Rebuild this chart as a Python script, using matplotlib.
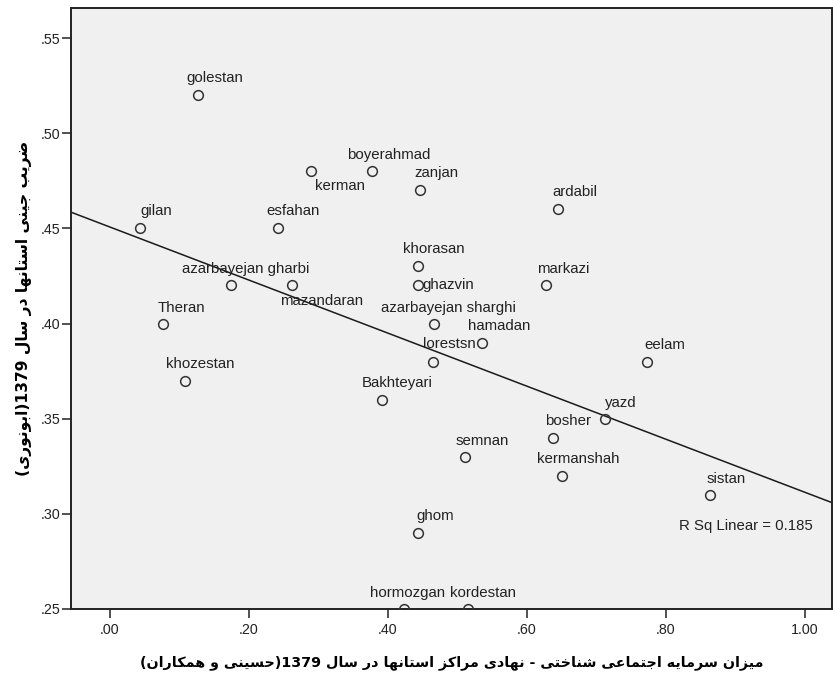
import numpy as np
import matplotlib
matplotlib.use("Agg")
import matplotlib.pyplot as plt

# Provinces, social capital (x) and Gini coefficient (y)
provinces = ["golestan", "kerman", "boyerahmad", "gilan", "esfahan",
             "azarbayejan gharbi", "mazandaran", "Theran", "zanjan", "ardabil",
             "khorasan", "ghazvin", "markazi", "azarbayejan sharghi", "hamadan",
             "lorestsn", "eelam", "Bakhteyari", "khozestan", "yazd",
             "bosher", "semnan", "kermanshah", "sistan", "ghom",
             "hormozgan", "kordestan"]
social_capital = [0.127, 0.290, 0.377, 0.043, 0.242,
                  0.174, 0.262, 0.077, 0.447, 0.645,
                  0.443, 0.443, 0.627, 0.467, 0.535,
                  0.465, 0.773, 0.391, 0.108, 0.712,
                  0.638, 0.511, 0.651, 0.863, 0.444,
                  0.423, 0.515]
gini = [0.52, 0.48, 0.48, 0.45, 0.45,
        0.42, 0.42, 0.40, 0.47, 0.46,
        0.43, 0.42, 0.42, 0.40, 0.39,
        0.38, 0.38, 0.36, 0.37, 0.35,
        0.34, 0.33, 0.32, 0.31, 0.29,
        0.25, 0.25]

x_ticks = [0.0, 0.2, 0.4, 0.6, 0.8, 1.0]
x_ticklabels = [".00", ".20", ".40", ".60", ".80", "1.00"]
y_ticks = [0.25, 0.30, 0.35, 0.40, 0.45, 0.50, 0.55]
y_ticklabels = [".25", ".30", ".35", ".40", ".45", ".50", ".55"]

xlabel_fa = "میزان سرمایه اجتماعی شناختی - نهادی مراکز استانها در سال 1379(حسینی و همکاران)"
ylabel_fa = "ضریب جینی استانها در سال 1379(ابونوری)"
r2_text = "R Sq Linear = 0.185"

# label placement (pixels, left edge / vertical centre relative to the point)
label_offsets = {
    "golestan": (-12, 17), "kerman": (4, -15), "boyerahmad": (-25, 16),
    "gilan": (1, 17), "esfahan": (-12, 17), "azarbayejan gharbi": (-49, 16),
    "mazandaran": (-12, -16), "Theran": (-6, 16), "zanjan": (-6, 17),
    "ardabil": (-6, 17), "khorasan": (-15, 17), "ghazvin": (5, 0),
    "markazi": (-9, 16), "azarbayejan sharghi": (-53, 16), "hamadan": (-14, 17),
    "lorestsn": (-10, 18), "eelam": (-3, 17), "Bakhteyari": (-20, 17),
    "khozestan": (-19, 17), "yazd": (0, 16), "bosher": (-8, 17),
    "semnan": (-9, 16), "kermanshah": (-25, 17), "sistan": (-3, 16),
    "ghom": (-2, 17), "hormozgan": (-34, 16), "kordestan": (-18, 16),
}

# --- minimal Persian shaping (matplotlib has no text shaping / bidi) ---
FORMS = {
    "ا": ("\uFE8D", "\uFE8E", None, None),
    "ب": ("\uFE8F", "\uFE90", "\uFE91", "\uFE92"),
    "ت": ("\uFE95", "\uFE96", "\uFE97", "\uFE98"),
    "ج": ("\uFE9D", "\uFE9E", "\uFE9F", "\uFEA0"),
    "ح": ("\uFEA1", "\uFEA2", "\uFEA3", "\uFEA4"),
    "خ": ("\uFEA5", "\uFEA6", "\uFEA7", "\uFEA8"),
    "د": ("\uFEA9", "\uFEAA", None, None),
    "ر": ("\uFEAD", "\uFEAE", None, None),
    "ز": ("\uFEAF", "\uFEB0", None, None),
    "س": ("\uFEB1", "\uFEB2", "\uFEB3", "\uFEB4"),
    "ش": ("\uFEB5", "\uFEB6", "\uFEB7", "\uFEB8"),
    "ض": ("\uFEBD", "\uFEBE", "\uFEBF", "\uFEC0"),
    "ع": ("\uFEC9", "\uFECA", "\uFECB", "\uFECC"),
    "ل": ("\uFEDD", "\uFEDE", "\uFEDF", "\uFEE0"),
    "م": ("\uFEE1", "\uFEE2", "\uFEE3", "\uFEE4"),
    "ن": ("\uFEE5", "\uFEE6", "\uFEE7", "\uFEE8"),
    "ه": ("\uFEE9", "\uFEEA", "\uFEEB", "\uFEEC"),
    "و": ("\uFEED", "\uFEEE", None, None),
    "ی": ("\uFBFC", "\uFBFD", "\uFBFE", "\uFBFF"),
    "ک": ("\uFB8E", "\uFB8F", "\uFB90", "\uFB91"),
}


def persian(text):
    shaped = []
    for i, ch in enumerate(text):
        if ch not in FORMS:
            shaped.append(ch)
            continue
        prev = text[i - 1] if i > 0 else ""
        nxt = text[i + 1] if i + 1 < len(text) else ""
        iso, fin, ini, med = FORMS[ch]
        j_prev = prev in FORMS and FORMS[prev][2] is not None
        j_next = nxt in FORMS and ini is not None
        if j_prev and j_next:
            shaped.append(med)
        elif j_prev:
            shaped.append(fin)
        elif j_next:
            shaped.append(ini)
        else:
            shaped.append(iso)
    vis = "".join(reversed(shaped))
    # keep digit runs left-to-right, mirror brackets
    out, run = [], ""
    for ch in vis:
        if ch.isdigit():
            run += ch
            continue
        if run:
            out.append(run[::-1])
            run = ""
        out.append({"(": ")", ")": "("}.get(ch, ch))
    if run:
        out.append(run[::-1])
    return "".join(out)


plt.rcParams["font.family"] = ["Liberation Sans", "DejaVu Sans"]

fig = plt.figure(figsize=(8.33, 6.75), dpi=100)
ax = fig.add_axes([71 / 833, 66 / 675, 761 / 833, 601 / 675])
ax.set_facecolor("#f0f0f0")

ax.set_xlim(-0.0557, 1.039)
ax.set_ylim(0.25, 0.5658)

# fit line
slope, intercept = np.polyfit(social_capital, gini, 1)
xl = np.array(ax.get_xlim())
ax.plot(xl, intercept + slope * xl, color="#1a1a1a", lw=1.1, zorder=2)

ax.plot(social_capital, gini, "o", ms=7, mfc="none", mec="#333333", mew=1.1,
        zorder=3)

for name, xv, yv in zip(provinces, social_capital, gini):
    dx, dy = label_offsets[name]
    ax.annotate(name, (xv, yv), xytext=(dx, dy), textcoords="offset pixels",
                ha="left", va="center", fontsize=10.8, color="#222222",
                zorder=4)

ax.text(0.819, 0.2937, r2_text, fontsize=10.8, color="#222222",
        ha="left", va="center")

ax.set_xticks(x_ticks)
ax.set_xticklabels(x_ticklabels)
ax.set_yticks(y_ticks)
ax.set_yticklabels(y_ticklabels)
ax.tick_params(axis="both", direction="out", length=6.5, width=1.1,
               color="#222222", labelsize=10.3, labelcolor="#222222")
ax.tick_params(axis="x", pad=3.5)
ax.tick_params(axis="y", pad=1)
for s in ax.spines.values():
    s.set_color("#222222")
    s.set_linewidth(1.4)

ax.set_xlabel(persian(xlabel_fa), fontsize=10.3, fontweight="bold",
              family="DejaVu Sans", labelpad=13)
ax.set_ylabel(persian(ylabel_fa), fontsize=11.2, fontweight="bold",
              family="DejaVu Sans", labelpad=6)

fig.savefig("out.png", dpi=100, facecolor="white")
